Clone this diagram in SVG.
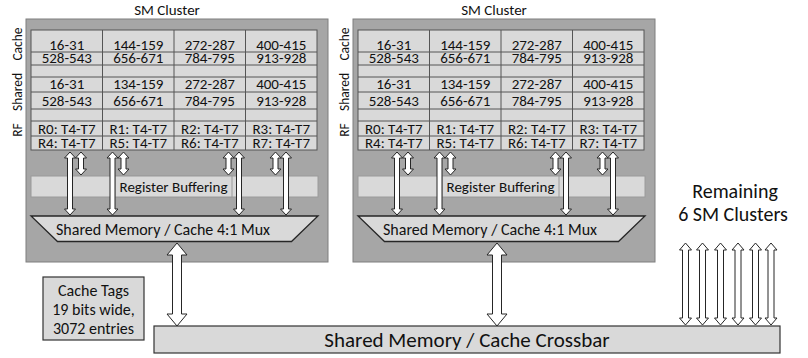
<svg xmlns="http://www.w3.org/2000/svg" width="808" height="358" viewBox="0 0 808 358">
<defs>
<style>
text{font-family:Carlito,Lato,"Open Sans",sans-serif;fill:#111}
.title{font-size:15px;text-anchor:middle}
.cell{font-size:15px;text-anchor:middle}
.lab{font-size:13.5px;text-anchor:middle}
.outer{fill:#a6a6a6;stroke:#7f7f7f;stroke-width:1}
.tbl{fill:#d9d9d9;stroke:#555;stroke-width:1}
.grid{stroke:#555;stroke-width:1;fill:none}
.bar{fill:#d9d9d9;stroke:#9a9a9a;stroke-width:1}
.mux{fill:#d9d9d9;stroke:#262626;stroke-width:1.3}
.box{fill:#d9d9d9;stroke:#333;stroke-width:1.2}
.arr{fill:#fff;stroke:#262626;stroke-width:1}
.mid{font-size:16px;text-anchor:middle}
.tags{font-size:16px;text-anchor:middle}
.big{font-size:20px;text-anchor:middle}
.xbar{font-size:21px;text-anchor:middle}
</style>
</defs>

<g id="sm-cluster-left">
<text class="title" x="167" y="15">SM Cluster</text>
<rect class="outer" x="26" y="19" width="302" height="243"/>
<g id="bank-table-left">
<rect class="tbl" x="31" y="30" width="286" height="120"/>
<path class="grid" d="M31 52H317M31 65H317M31 77H317M31 92H317M31 109H317M31 121H317M31 136H317M102.5 30V150M174 30V150M245.5 30V150"/>
<text class="cell" x="66.75" y="49.5">16-31</text>
<text class="cell" x="138.25" y="49.5">144-159</text>
<text class="cell" x="209.75" y="49.5">272-287</text>
<text class="cell" x="281.25" y="49.5">400-415</text>
<text class="cell" x="66.75" y="63">528-543</text>
<text class="cell" x="138.25" y="63">656-671</text>
<text class="cell" x="209.75" y="63">784-795</text>
<text class="cell" x="281.25" y="63">913-928</text>
<text class="cell" x="66.75" y="89">16-31</text>
<text class="cell" x="138.25" y="89">134-159</text>
<text class="cell" x="209.75" y="89">272-287</text>
<text class="cell" x="281.25" y="89">400-415</text>
<text class="cell" x="66.75" y="106">528-543</text>
<text class="cell" x="138.25" y="106">656-671</text>
<text class="cell" x="209.75" y="106">784-795</text>
<text class="cell" x="281.25" y="106">913-928</text>
<text class="cell" x="66.75" y="133.5">R0: T4-T7</text>
<text class="cell" x="138.25" y="133.5">R1: T4-T7</text>
<text class="cell" x="209.75" y="133.5">R2: T4-T7</text>
<text class="cell" x="281.25" y="133.5">R3: T4-T7</text>
<text class="cell" x="66.75" y="147.5">R4: T4-T7</text>
<text class="cell" x="138.25" y="147.5">R5: T4-T7</text>
<text class="cell" x="209.75" y="147.5">R6: T4-T7</text>
<text class="cell" x="281.25" y="147.5">R7: T4-T7</text>
</g>
<text class="lab" transform="translate(21.5,44) rotate(-90)">Cache</text>
<text class="lab" transform="translate(21.5,92) rotate(-90)">Shared</text>
<text class="lab" transform="translate(21.5,130) rotate(-90)">RF</text>
<g id="register-buffering-left">
<rect class="bar" x="31" y="176" width="287" height="21"/>
<rect class="bar" x="115" y="176" width="117" height="21"/>
<text class="cell" x="173.5" y="191.5">Register Buffering</text>
</g>
<g id="mux-left">
<path class="mux" d="M31 216H318L291.5 241.5H57.5Z"/>
<text class="mid" x="163" y="234.5">Shared Memory / Cache 4:1 Mux</text>
</g>
</g>

<g id="sm-cluster-right">
<text class="title" x="494" y="15">SM Cluster</text>
<rect class="outer" x="353" y="19" width="302" height="243"/>
<g id="bank-table-right">
<rect class="tbl" x="358" y="30" width="286" height="120"/>
<path class="grid" d="M358 52H644M358 65H644M358 77H644M358 92H644M358 109H644M358 121H644M358 136H644M429.5 30V150M501 30V150M572.5 30V150"/>
<text class="cell" x="393.75" y="49.5">16-31</text>
<text class="cell" x="465.25" y="49.5">144-159</text>
<text class="cell" x="536.75" y="49.5">272-287</text>
<text class="cell" x="608.25" y="49.5">400-415</text>
<text class="cell" x="393.75" y="63">528-543</text>
<text class="cell" x="465.25" y="63">656-671</text>
<text class="cell" x="536.75" y="63">784-795</text>
<text class="cell" x="608.25" y="63">913-928</text>
<text class="cell" x="393.75" y="89">16-31</text>
<text class="cell" x="465.25" y="89">134-159</text>
<text class="cell" x="536.75" y="89">272-287</text>
<text class="cell" x="608.25" y="89">400-415</text>
<text class="cell" x="393.75" y="106">528-543</text>
<text class="cell" x="465.25" y="106">656-671</text>
<text class="cell" x="536.75" y="106">784-795</text>
<text class="cell" x="608.25" y="106">913-928</text>
<text class="cell" x="393.75" y="133.5">R0: T4-T7</text>
<text class="cell" x="465.25" y="133.5">R1: T4-T7</text>
<text class="cell" x="536.75" y="133.5">R2: T4-T7</text>
<text class="cell" x="608.25" y="133.5">R3: T4-T7</text>
<text class="cell" x="393.75" y="147.5">R4: T4-T7</text>
<text class="cell" x="465.25" y="147.5">R5: T4-T7</text>
<text class="cell" x="536.75" y="147.5">R6: T4-T7</text>
<text class="cell" x="608.25" y="147.5">R7: T4-T7</text>
</g>
<text class="lab" transform="translate(348.5,44) rotate(-90)">Cache</text>
<text class="lab" transform="translate(348.5,92) rotate(-90)">Shared</text>
<text class="lab" transform="translate(348.5,130) rotate(-90)">RF</text>
<g id="register-buffering-right">
<rect class="bar" x="358" y="176" width="287" height="21"/>
<rect class="bar" x="442" y="176" width="117" height="21"/>
<text class="cell" x="500.5" y="191.5">Register Buffering</text>
</g>
<g id="mux-right">
<path class="mux" d="M358 216H645L618.5 241.5H384.5Z"/>
<text class="mid" x="490" y="234.5">Shared Memory / Cache 4:1 Mux</text>
</g>
</g>

<g id="cache-tags">
<rect class="box" x="43" y="277" width="101" height="63"/>
<text class="tags" x="93.5" y="296">Cache Tags</text>
<text class="tags" x="93.5" y="315">19 bits wide,</text>
<text class="tags" x="93.5" y="334">3072 entries</text>
</g>

<g id="crossbar">
<rect class="box" x="154" y="326" width="626" height="27"/>
<text class="xbar" x="467" y="347">Shared Memory / Cache Crossbar</text>
</g>

<g id="remaining-clusters">
<text class="big" x="735" y="198">Remaining</text>
<text class="big" x="733" y="221">6 SM Clusters</text>
</g>

<g id="connectors">
<path class="arr" d="M70 152L75.5 158H72.5V209H75.5L70 215L64.5 209H67.5V158H64.5Z"/>
<path class="arr" d="M81 152L86.5 158H83.5V169H86.5L81 175L75.5 169H78.5V158H75.5Z"/>
<path class="arr" d="M112.5 152L118 158H115V209H118L112.5 215L107 209H110V158H107Z"/>
<path class="arr" d="M123.5 152L129 158H126V169H129L123.5 175L118 169H121V158H118Z"/>
<path class="arr" d="M228.5 152L234 158H231V169H234L228.5 175L223 169H226V158H223Z"/>
<path class="arr" d="M239 152L244.5 158H241.5V209H244.5L239 215L233.5 209H236.5V158H233.5Z"/>
<path class="arr" d="M275.5 152L281 158H278V169H281L275.5 175L270 169H273V158H270Z"/>
<path class="arr" d="M286 152L291.5 158H288.5V209H291.5L286 215L280.5 209H283.5V158H280.5Z"/>
<path class="arr" d="M397 152L402.5 158H399.5V209H402.5L397 215L391.5 209H394.5V158H391.5Z"/>
<path class="arr" d="M408 152L413.5 158H410.5V169H413.5L408 175L402.5 169H405.5V158H402.5Z"/>
<path class="arr" d="M439.5 152L445 158H442V209H445L439.5 215L434 209H437V158H434Z"/>
<path class="arr" d="M450.5 152L456 158H453V169H456L450.5 175L445 169H448V158H445Z"/>
<path class="arr" d="M555.5 152L561 158H558V169H561L555.5 175L550 169H553V158H550Z"/>
<path class="arr" d="M566 152L571.5 158H568.5V209H571.5L566 215L560.5 209H563.5V158H560.5Z"/>
<path class="arr" d="M602.5 152L608 158H605V169H608L602.5 175L597 169H600V158H597Z"/>
<path class="arr" d="M613 152L618.5 158H615.5V209H618.5L613 215L607.5 209H610.5V158H607.5Z"/>
<path class="arr" d="M177 243L187 255H181.5V314H187L177 326L167 314H172.5V255H167Z"/>
<path class="arr" d="M497 243L507 255H501.5V314H507L497 326L487 314H492.5V255H487Z"/>
<path class="arr" d="M685.5 243L691.5 250H688.5V318H691.5L685.5 325L679.5 318H682.5V250H679.5Z"/>
<path class="arr" d="M702.5 243L708.5 250H705.5V318H708.5L702.5 325L696.5 318H699.5V250H696.5Z"/>
<path class="arr" d="M720.5 243L726.5 250H723.5V318H726.5L720.5 325L714.5 318H717.5V250H714.5Z"/>
<path class="arr" d="M738 243L744 250H741V318H744L738 325L732 318H735V250H732Z"/>
<path class="arr" d="M755.5 243L761.5 250H758.5V318H761.5L755.5 325L749.5 318H752.5V250H749.5Z"/>
<path class="arr" d="M771 243L777 250H774V318H777L771 325L765 318H768V250H765Z"/>
</g>
</svg>
